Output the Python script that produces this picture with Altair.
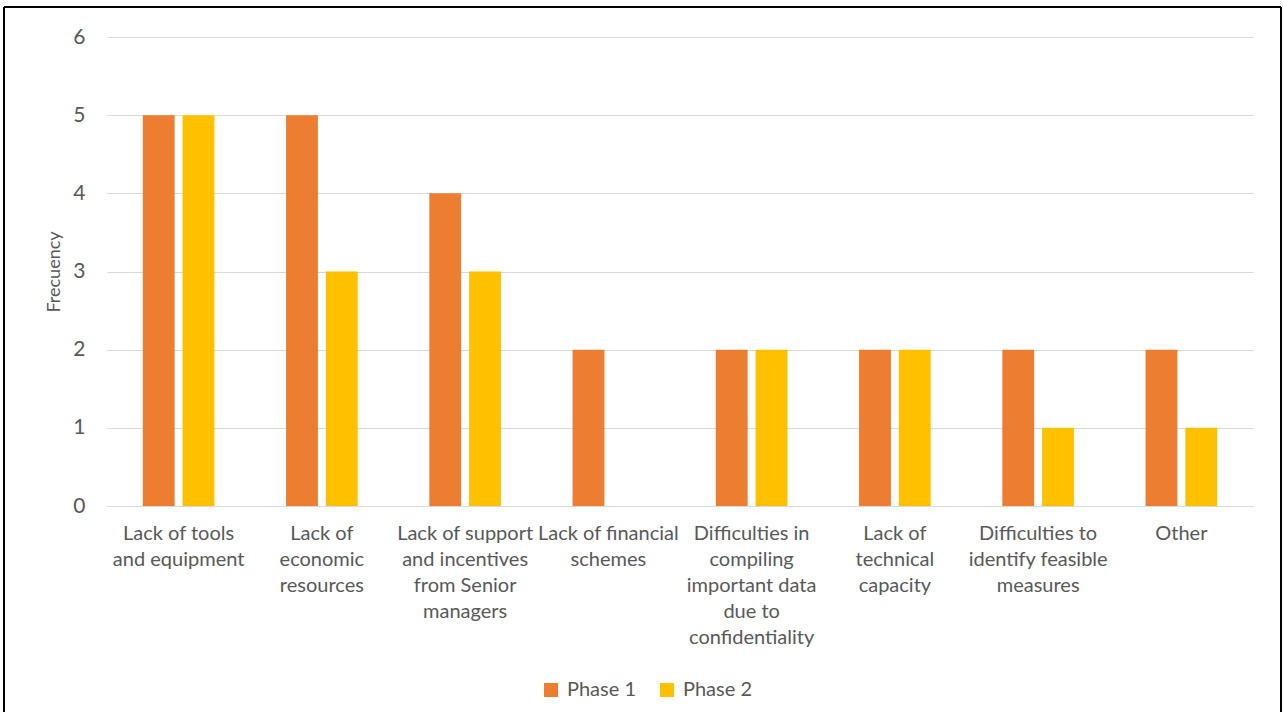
import altair as alt
import pandas as pd

categories = [
    "Lack of tools|and equipment",
    "Lack of|economic|resources",
    "Lack of support|and incentives|from Senior|managers",
    "Lack of financial|schemes",
    "Difficulties in|compiling|important data|due to|confidentiality",
    "Lack of|technical|capacity",
    "Difficulties to|identify feasible|measures",
    "Other",
]
phase1 = [5, 5, 4, 2, 2, 2, 2, 2]
phase2 = [5, 3, 3, 0, 2, 2, 1, 1]
phases = ["Phase 1", "Phase 2"]
colors = ["#ED7D31", "#FFC000"]

rows = []
for c, a, b in zip(categories, phase1, phase2):
    rows.append({"cat": c, "phase": "Phase 1", "value": a})
    rows.append({"cat": c, "phase": "Phase 2", "value": b})
df = pd.DataFrame(rows)

FONT = "Lato"
TXT = "#595959"

bars = alt.Chart(df).mark_bar().encode(
    x=alt.X("cat:N", sort=categories,
            scale=alt.Scale(paddingInner=0.5, paddingOuter=0.25),
            axis=alt.Axis(title=None, labelAngle=0, labelExpr="split(datum.value, '|')",
                          labelBaseline="top", labelLineHeight=26, labelPadding=17,
                          labelFontSize=20, labelFont=FONT, labelColor=TXT,
                          ticks=False, domainColor="#D9D9D9", domainWidth=1,
                          labelLimit=300, grid=False)),
    xOffset=alt.XOffset("phase:N", sort=phases,
                        scale=alt.Scale(paddingInner=0.2, paddingOuter=0)),
    y=alt.Y("value:Q", scale=alt.Scale(domain=[0, 6], nice=False),
            axis=alt.Axis(title="Frecuency", values=[0, 1, 2, 3, 4, 5, 6], format="d",
                          ticks=False, domain=False, labelPadding=22,
                          labelFontSize=21, labelFont=FONT, labelColor=TXT,
                          titleFont=FONT, titleFontSize=18, titleFontWeight="normal",
                          titleColor=TXT, titlePadding=9,
                          gridColor="#D9D9D9", gridWidth=1)),
    color=alt.Color("phase:N", sort=phases,
                    scale=alt.Scale(domain=phases, range=colors),
                    legend=alt.Legend(title=None, orient="none", legendX=434, legendY=643,
                                      direction="horizontal", symbolType="square",
                                      symbolSize=196, symbolStrokeWidth=0,
                                      labelFontSize=20, labelFont=FONT, labelColor=TXT,
                                      labelOffset=6, columnPadding=21, padding=0)),
)

frame_src = alt.Data(values=[{"k": 1}])
left = alt.Chart(frame_src).mark_rule(color="black", strokeWidth=2).encode(
    x=alt.value(-103), y=alt.value(-30), y2=alt.value(675))
top = alt.Chart(frame_src).mark_rule(color="black", strokeWidth=2).encode(
    x=alt.value(-103), x2=alt.value(1174), y=alt.value(-30))
right = alt.Chart(frame_src).mark_rule(color="black", strokeWidth=2).encode(
    x=alt.value(1174), y=alt.value(-30), y2=alt.value(675))

chart = alt.layer(bars, left, top, right).properties(
    width=1146, height=469,
    background="white",
    padding={"left": 3, "top": 6, "right": 0, "bottom": 0},
).configure_view(stroke=None)

chart.save("out.html", embed_options={"renderer": "svg", "actions": False})
